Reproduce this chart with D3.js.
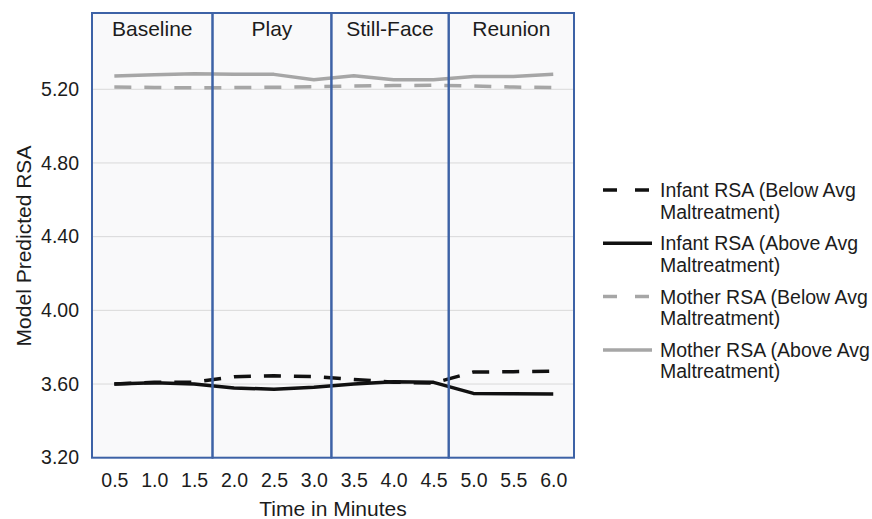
<!DOCTYPE html>
<html>
<head>
<meta charset="utf-8">
<script src="https://cdn.jsdelivr.net/npm/d3@7"></script>
<style>
    body { margin: 0; background: #fff; }
    svg { display: block; font-family: "Liberation Sans", Arial, sans-serif; }
</style>
</head>
<body>
<svg id="chart" width="872" height="519"></svg>
<script>
// data
const times = [0.5, 1.0, 1.5, 2.0, 2.5, 3.0, 3.5, 4.0, 4.5, 5.0, 5.5, 6.0];
const infantBelow = [3.60, 3.61, 3.61, 3.64, 3.645, 3.64, 3.625, 3.61, 3.605, 3.665, 3.667, 3.67];
const infantAbove = [3.60, 3.607, 3.60, 3.578, 3.572, 3.582, 3.60, 3.612, 3.609, 3.549, 3.547, 3.546];
const motherBelow = [5.212, 5.21, 5.208, 5.209, 5.211, 5.214, 5.218, 5.22, 5.222, 5.218, 5.212, 5.209];
const motherAbove = [5.272, 5.279, 5.285, 5.281, 5.281, 5.252, 5.274, 5.252, 5.252, 5.270, 5.270, 5.281];
const yTicks = [3.2, 3.6, 4.0, 4.4, 4.8, 5.2];
const phaseNames = ['Baseline', 'Play', 'Still-Face', 'Reunion'];
const phaseEdges = [0.22, 1.73, 3.22, 4.69, 6.26];

const seriesNames = [
    ['Infant RSA (Below Avg', 'Maltreatment)'],
    ['Infant RSA (Above Avg', 'Maltreatment)'],
    ['Mother RSA (Below Avg', 'Maltreatment)'],
    ['Mother RSA (Above Avg', 'Maltreatment)']
];
const seriesValues = [infantBelow, infantAbove, motherBelow, motherAbove];
const seriesColors = ['#111', '#111', '#a6a6a6', '#a6a6a6'];
const seriesDashed = [true, false, true, false];

const svg = d3.select('#chart');
const plotLeft = 92, plotRight = 574, plotTop = 13, plotBottom = 457.7;

const x = d3.scaleLinear().domain([0.22, 6.26]).range([plotLeft, plotRight]);
const y = d3.scaleLinear().domain([3.2, 5.6]).range([plotBottom, 15.6]);

// plot background
svg.append('rect')
    .attr('x', plotLeft).attr('y', plotTop)
    .attr('width', plotRight - plotLeft).attr('height', plotBottom - plotTop)
    .attr('fill', '#f9f9fa');

// gridlines
svg.append('g')
    .selectAll('line')
    .data(yTicks.slice(1))
    .enter()
    .append('line')
    .attr('x1', plotLeft).attr('x2', plotRight)
    .attr('y1', d => y(d)).attr('y2', d => y(d))
    .attr('stroke', '#d9d9d9')
    .attr('stroke-width', 1);

// y axis labels
const yAxis = svg.append('g')
    .attr('transform', `translate(${plotLeft}, 0)`)
    .call(d3.axisLeft(y).tickValues(yTicks).tickFormat(d3.format('.2f')).tickSize(0).tickPadding(13));
yAxis.select('.domain').remove();
yAxis.selectAll('text')
    .attr('font-size', 19.5)
    .attr('font-family', '"Liberation Sans", Arial, sans-serif')
    .attr('fill', '#1c1c1c');

// x axis labels
const xAxis = svg.append('g')
    .attr('transform', `translate(0, ${plotBottom})`)
    .call(d3.axisBottom(x).tickValues(times).tickFormat(d3.format('.1f')).tickSize(0).tickPadding(15));
xAxis.select('.domain').remove();
xAxis.selectAll('text')
    .attr('font-size', 19.5)
    .attr('font-family', '"Liberation Sans", Arial, sans-serif')
    .attr('fill', '#1c1c1c');

// lines
const line = d3.line()
    .x((d, i) => x(times[i]))
    .y(d => y(d));

seriesValues.forEach((vals, k) => {
    svg.append('path')
        .datum(vals)
        .attr('fill', 'none')
        .attr('stroke', seriesColors[k])
        .attr('stroke-width', 3.5)
        .attr('stroke-dasharray', seriesDashed[k] ? '17,13' : null)
        .attr('stroke-linejoin', 'round')
        .attr('d', line);
});

// phase boxes
const phases = phaseNames.map((name, i) => ({ name: name, start: phaseEdges[i], end: phaseEdges[i + 1] }));
svg.append('g')
    .selectAll('rect')
    .data(phases)
    .enter()
    .append('rect')
    .attr('x', d => x(d.start))
    .attr('y', plotTop)
    .attr('width', d => x(d.end) - x(d.start))
    .attr('height', plotBottom - plotTop)
    .attr('fill', 'none')
    .attr('stroke', '#3d62a6')
    .attr('stroke-width', 2);
svg.append('g')
    .selectAll('text')
    .data(phases)
    .enter()
    .append('text')
    .attr('x', d => (x(d.start) + x(d.end)) / 2)
    .attr('y', 35.5)
    .attr('text-anchor', 'middle')
    .attr('font-size', 21)
    .attr('fill', '#1c1c1c')
    .text(d => d.name);

// axis titles
svg.append('text')
    .attr('transform', 'translate(31, 246) rotate(-90)')
    .attr('text-anchor', 'middle')
    .attr('font-size', 21)
    .attr('fill', '#1c1c1c')
    .text('Model Predicted RSA');
svg.append('text')
    .attr('x', (plotLeft + plotRight) / 2)
    .attr('y', 516)
    .attr('text-anchor', 'middle')
    .attr('font-size', 21)
    .attr('fill', '#1c1c1c')
    .text('Time in Minutes');

// legend
const legend = svg.append('g')
    .selectAll('g')
    .data(seriesNames)
    .enter()
    .append('g')
    .attr('transform', (d, i) => `translate(603, ${190 + i * 53.3})`);
legend.append('line')
    .attr('x1', 0).attr('x2', 49)
    .attr('y1', 0).attr('y2', 0)
    .attr('stroke', (d, i) => seriesColors[i])
    .attr('stroke-width', 3.5)
    .attr('stroke-dasharray', (d, i) => seriesDashed[i] ? '14,18' : null);
legend.append('text')
    .attr('x', 57)
    .attr('y', 7)
    .attr('font-size', 19.5)
    .attr('fill', '#1c1c1c')
    .selectAll('tspan')
    .data(d => d)
    .enter()
    .append('tspan')
    .attr('x', 57)
    .attr('dy', (d, i) => i === 0 ? 0 : 21.5)
    .text(d => d);
</script>
</body>
</html>
